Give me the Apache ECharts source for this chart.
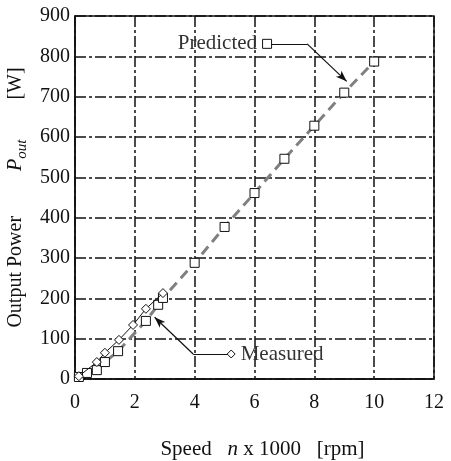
<!DOCTYPE html>
<html>
<head>
<meta charset="utf-8">
<script src="https://cdn.jsdelivr.net/npm/echarts@6/dist/echarts.min.js"></script>
<style>
html,body{margin:0;padding:0;background:#fff;}
#c{width:451px;height:461px;}
</style>
</head>
<body>
<div id="c"></div>
<script>
// Predicted (squares, gray dashed)
const predSpeed = [0.13, 0.4, 0.73, 1.0, 1.44, 2.37, 2.78, 2.94, 4.0, 5.0, 6.0, 7.0, 8.0, 9.0, 10.0];
const predPower = [5, 15, 22, 42, 69, 144, 184, 201, 288, 377, 461, 546, 628, 710, 787];
// Measured (diamonds, thin black)
const measSpeed = [0.13, 0.73, 1.0, 1.47, 1.94, 2.37, 2.94];
const measPower = [7, 42, 65, 97, 134, 174, 213];
// Annotation anchors (data coords)
const predNote = [[6.42, 831], [7.76, 831], [9.08, 738]];
const measNote = [[5.22, 62], [3.95, 62], [2.66, 153]];
const xTicks = [0, 2, 4, 6, 8, 10, 12];
const yTicks = [0, 100, 200, 300, 400, 500, 600, 700, 800, 900];

const FONT = '"Liberation Serif", "Times New Roman", serif';
const zip = (a, b) => a.map((v, i) => [v, b[i]]);

const chart = echarts.init(document.getElementById('c'), null, {renderer: 'canvas'});
const gridLine = {show: true, lineStyle: {color: '#111', width: 1.5, type: [11, 3, 3, 3]}};

function noteSeries(pts, symbol, text, labelPos) {
  return {
    type: 'line', data: [], silent: true,
    markLine: {
      silent: true, animation: false,
      symbol: ['none', 'none'],
      label: {show: false},
      lineStyle: {color: '#111', width: 1.2, type: 'solid'},
      data: [
        [{coord: pts[0], symbol: 'none'}, {coord: pts[1], symbol: 'none'}],
        [{coord: pts[1], symbol: 'none'}, {coord: pts[2], symbol: 'arrow', symbolSize: [6, 11]}]
      ]
    },
    markPoint: {
      silent: true, animation: false,
      symbol: symbol, symbolSize: symbol === 'rect' ? 9 : 8,
      itemStyle: {color: '#fff', borderColor: '#111', borderWidth: 1},
      label: {show: true, position: labelPos, distance: 5, formatter: text,
              color: '#333', fontFamily: FONT, fontSize: 21},
      data: [{coord: pts[0]}]
    }
  };
}

chart.setOption({
  animation: false,
  backgroundColor: '#fff',
  grid: {left: 75, right: 17, top: 16, bottom: 82, show: true, borderColor: '#111', borderWidth: 1.5,
         containLabel: false, outerBoundsMode: 'none'},
  xAxis: {
    type: 'value', min: 0, max: 12, interval: 2,
    axisLine: {show: true, lineStyle: {color: '#111', width: 1.5}},
    axisTick: {show: false},
    axisLabel: {color: '#111', fontFamily: FONT, fontSize: 20, margin: 14,
                formatter: v => xTicks.includes(v) ? String(v) : ''},
    splitLine: gridLine,
    name: 'Speed   {i|n} x 1000   [rpm]',
    nameLocation: 'middle', nameGap: 60,
    nameTextStyle: {color: '#111', fontFamily: FONT, fontSize: 21, padding: [0, 0, 0, 16],
      rich: {i: {fontStyle: 'italic', fontFamily: FONT, fontSize: 21, color: '#111'}}}
  },
  yAxis: {
    type: 'value', min: 0, max: 900, interval: 100,
    axisLine: {show: true, lineStyle: {color: '#111', width: 1.5}},
    axisTick: {show: false},
    axisLabel: {color: '#111', fontFamily: FONT, fontSize: 20, margin: 5,
                formatter: v => yTicks.includes(v) ? String(v) : ''},
    splitLine: gridLine,
    name: 'Output Power         {i|P}{s|out}        [W]',
    nameLocation: 'middle', nameGap: 45, nameRotate: 90,
    nameTextStyle: {color: '#111', fontFamily: FONT, fontSize: 20, lineHeight: 26,
      rich: {
        i: {fontStyle: 'italic', fontFamily: FONT, fontSize: 20, color: '#111', lineHeight: 26},
        s: {fontStyle: 'italic', fontFamily: FONT, fontSize: 15, color: '#111', lineHeight: 26, verticalAlign: 'bottom'}
      }}
  },
  series: [
    {
      name: 'Predicted', type: 'line', data: zip(predSpeed, predPower),
      symbol: 'rect', symbolSize: 9,
      itemStyle: {color: '#fff', borderColor: '#111', borderWidth: 1},
      lineStyle: {color: '#808080', width: 3, type: [10, 6]},
      z: 3
    },
    {
      name: 'Measured', type: 'line', data: zip(measSpeed, measPower),
      symbol: 'diamond', symbolSize: 9,
      itemStyle: {color: '#fff', borderColor: '#111', borderWidth: 1},
      lineStyle: {color: '#111', width: 1},
      z: 4
    },
    noteSeries(predNote, 'rect', 'Predicted', 'left'),
    noteSeries(measNote, 'diamond', 'Measured', 'right')
  ]
});
</script>
</body>
</html>
